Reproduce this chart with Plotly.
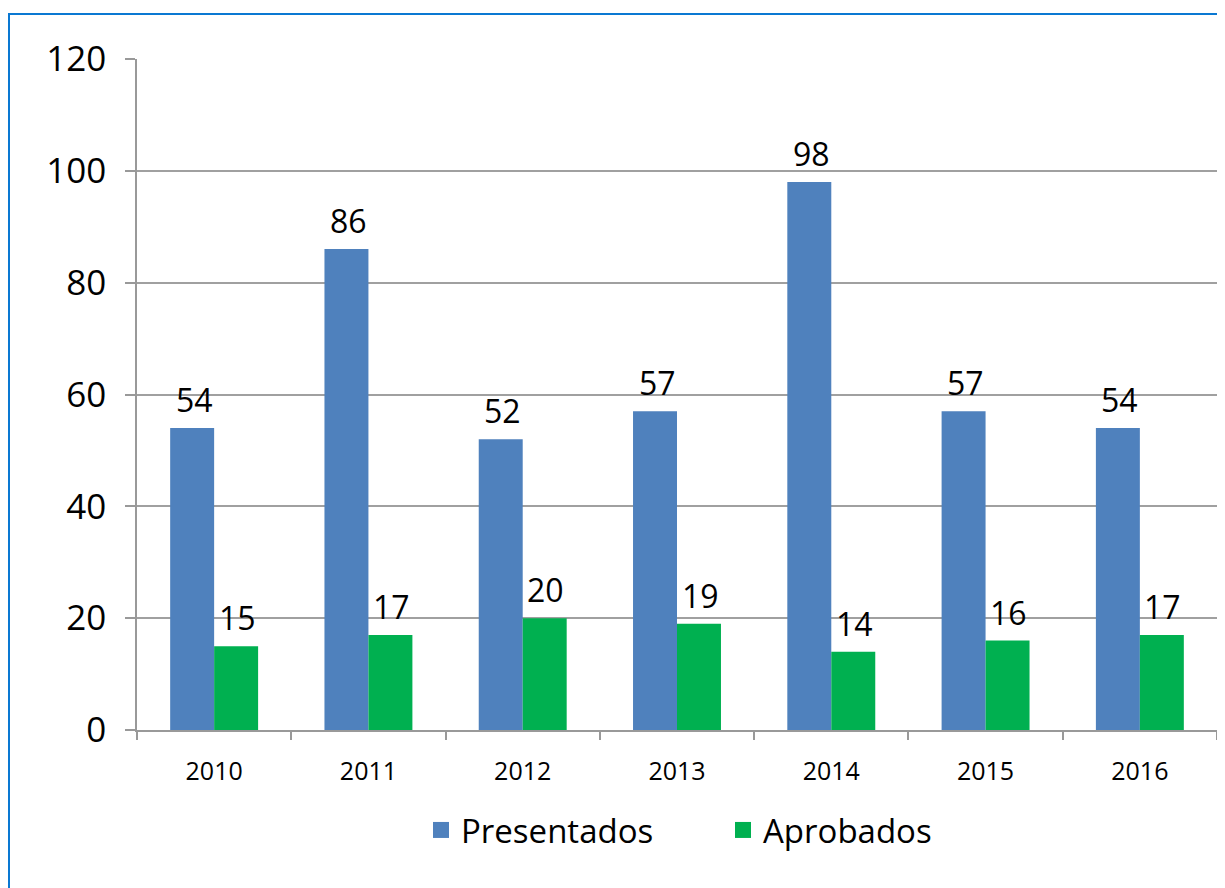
import plotly.graph_objects as go

years = ["2010", "2011", "2012", "2013", "2014", "2015", "2016"]
presentados = [54, 86, 52, 57, 98, 57, 54]
aprobados = [15, 17, 20, 19, 14, 16, 17]
y_ticks = [0, 20, 40, 60, 80, 100, 120]

BLUE = "#4f81bd"
GREEN = "#00b050"
FONT = "Open Sans"

# the page body adds an 8px offset; figure coordinates are page minus 8
L, T = 129, 51
W, H = 1225, 888
pw, ph = 1080, 671
R = W - L - pw
B = H - T - ph

fig = go.Figure()
fig.add_bar(x=years, y=presentados, name="Presentados", marker_color=BLUE,
            marker_line_width=0, showlegend=False)
fig.add_bar(x=years, y=aprobados, name="Aprobados", marker_color=GREEN,
            marker_line_width=0, showlegend=False)
# legend entries with larger square swatches
fig.add_scatter(x=[None], y=[None], mode="markers", name="Presentados",
                marker=dict(symbol="square", size=18, color=BLUE))
fig.add_scatter(x=[None], y=[None], mode="markers", name="Aprobados",
                marker=dict(symbol="square", size=18, color=GREEN))

annotations = []
for i, v in enumerate(presentados):
    annotations.append(dict(x=i, y=v, xref="x", yref="y", text=str(v), showarrow=False,
                            xshift=-20, yshift=5, yanchor="bottom",
                            font=dict(size=32, color="black", family=FONT)))
for i, v in enumerate(aprobados):
    annotations.append(dict(x=i, y=v, xref="x", yref="y", text=str(v), showarrow=False,
                            xshift=23, yshift=5, yanchor="bottom",
                            font=dict(size=32, color="black", family=FONT)))

fx0 = (0 - L) / pw
fy1 = (T + ph - 6) / ph
fig.update_layout(
    width=W, height=H,
    margin=dict(l=L, r=R, t=T, b=B, autoexpand=False),
    paper_bgcolor="white", plot_bgcolor="white",
    barmode="group", bargap=0.43, bargroupgap=0,
    font=dict(family=FONT, color="black"),
    showlegend=True,
    legend=dict(orientation="h", x=(413 - L) / pw, xanchor="left",
                y=(T + ph - 822) / ph, yanchor="middle",
                font=dict(size=33, family=FONT), tracegroupgap=0,
                itemsizing="trace", entrywidth=257, entrywidthmode="pixels"),
    annotations=annotations,
    shapes=[
        dict(type="line", xref="paper", yref="paper", x0=fx0, x1=1.05, y0=fy1, y1=fy1,
             line=dict(color="#0a78d2", width=2)),
        dict(type="line", xref="paper", yref="paper", x0=fx0 + 1 / pw, x1=fx0 + 1 / pw,
             y0=fy1, y1=-0.3, line=dict(color="#0a78d2", width=2)),
    ],
)
fig.update_xaxes(
    type="category", range=[-0.5, 6.5], showline=True, linecolor="#999999", linewidth=1.5,
    ticks="outside", tickson="boundaries", ticklen=8, tickcolor="#999999", tickwidth=1.5,
    tickfont=dict(size=25, family=FONT), ticklabelstandoff=18, showgrid=False,
    tickangle=0, automargin=False,
)
fig.update_yaxes(
    range=[0, 120], tickvals=y_ticks, showline=True, linecolor="#999999", linewidth=1.5,
    ticks="outside", ticklen=10, tickcolor="#999999", tickwidth=1.5,
    tickfont=dict(size=35, family=FONT), ticklabelstandoff=12,
    showgrid=True, gridcolor="#a0a0a0", gridwidth=1.5, zeroline=False, automargin=False,
)
fig.write_html("out.html")
